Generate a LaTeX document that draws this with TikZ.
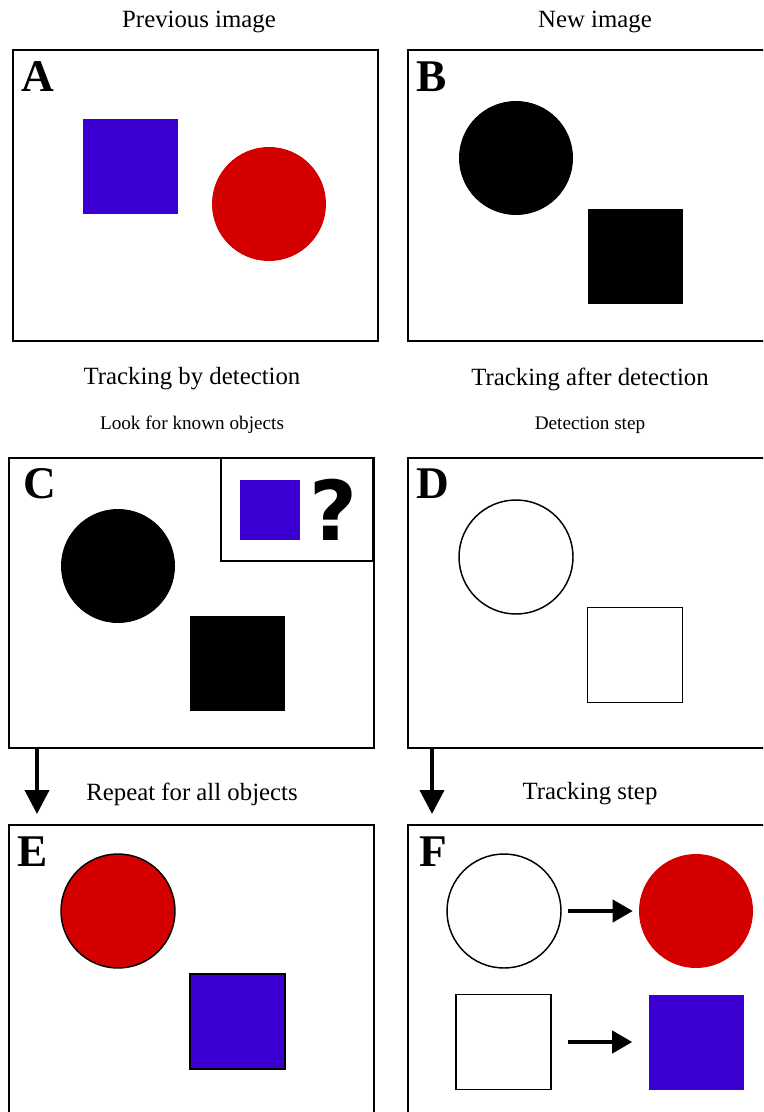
\documentclass[tikz,border=0pt]{standalone}
\usepackage{fontspec}
\setmainfont{Liberation Serif}
\newfontfamily\markfont{DejaVu Sans}
\usetikzlibrary{arrows.meta}
\definecolor{objblue}{HTML}{3B00D1}
\definecolor{objred}{HTML}{D40000}

\begin{document}
\begin{tikzpicture}[
  x=0.75pt, y=-0.75pt,
  panel/.style={draw, line width=1.5pt, minimum width=273.75pt, minimum height=217.5pt, inner sep=0pt},
  widepanel/.style={panel, minimum width=279pt},
  disc/.style={circle, minimum size=85.5pt, inner sep=0pt},
  blk/.style={rectangle, minimum size=71.25pt, inner sep=0pt},
  tag/.style={font=\fontsize{34}{34}\selectfont\bfseries},
  title/.style={font=\fontsize{18.6}{22}\selectfont},
  note/.style={font=\fontsize{14.4}{17}\selectfont},
  arrow/.style={-{Triangle[length=18pt, width=18pt]}, line width=3pt}
]
  \useasboundingbox (0,0) rectangle (763,1112);
  \clip (0,0) rectangle (763,1112);

  % headings
  \node[title] (prevtitle) at (199,22) {Previous image};
  \node[title] (newtitle) at (595,22) {New image};
  \node[title] (bytitle) at (192,379) {Tracking by detection};
  \node[title] (aftertitle) at (590,379) {Tracking after detection};
  \node[note] (bynote) at (192,425) {Look for known objects};
  \node[note] (afternote) at (590,425) {Detection step};
  \node[title] (repeattitle) at (192,794) {Repeat for all objects};
  \node[title] (tracktitle) at (590,794) {Tracking step};

  % the six frames
  \node[panel] (A) at (195,195.5) {};
  \node[widepanel] (B) at (594,195.5) {};
  \node[panel] (C) at (191.5,603) {};
  \node[widepanel] (D) at (594,603) {};
  \node[panel] (E) at (191.5,970) {};
  \node[widepanel] (F) at (594,970) {};

  \node[tag] (tagA) at (38,77) {A};
  \node[tag] (tagB) at (432,77) {B};
  \node[tag] (tagC) at (40,484) {C};
  \node[tag] (tagD) at (433,484) {D};
  \node[tag] (tagE) at (33,852) {E};
  \node[tag] (tagF) at (433,852) {F};

  % A: previous image
  \node[blk, fill=objblue] (sqA) at (130.5,167) {};
  \node[disc, fill=objred] (discA) at (269,204) {};

  % B: new image
  \node[disc, fill=black] (discB) at (516,158) {};
  \node[blk, fill=black] (sqB) at (635,256.5) {};

  % C: search for a known object
  \node[disc, fill=black] (discC) at (118,566) {};
  \node[blk, fill=black] (sqC) at (237,663.5) {};
  \node[draw, line width=1.5pt, fill=white, minimum width=114pt, minimum height=77.25pt, inner sep=0pt] (query) at (297,509.5) {};
  \node[fill=objblue, minimum size=45pt, inner sep=0pt] (querysq) at (270,510) {};
  \node[font=\markfont\bfseries\fontsize{62}{62}\selectfont] (querymark) at (333,510) {?};

  % D: detections only
  \node[disc, draw, line width=1.1pt] (discD) at (516,557) {};
  \node[blk, draw, line width=1.1pt] (sqD) at (635,655) {};

  % E: every object matched
  \node[disc, draw, line width=1.1pt, fill=objred] (discE) at (118,911) {};
  \node[blk, draw, line width=1.1pt, fill=objblue] (sqE) at (237.5,1021.5) {};

  % F: detections linked to tracks
  \node[disc, draw, line width=1.1pt] (discF) at (504,911) {};
  \node[disc, fill=objred] (trackdisc) at (696,911) {};
  \node[blk, draw, line width=1.1pt] (sqF) at (503.5,1042) {};
  \node[blk, fill=objblue] (tracksq) at (696,1042) {};

  \draw[arrow, -{Triangle[length=15pt, width=16.5pt]}, shorten <=4.5pt, shorten >=4.5pt] (discF) -- (trackdisc);
  \draw[arrow, -{Triangle[length=15pt, width=16.5pt]}, shorten <=12pt, shorten >=12pt] (sqF) -- (tracksq);

  % flow between frames
  \draw[arrow, shorten >=7.5pt] ([xshift=21.75pt]C.south west) -- ([xshift=21.75pt]E.north west);
  \draw[arrow, shorten >=7.5pt] ([xshift=18.75pt]D.south west) -- ([xshift=18.75pt]F.north west);
\end{tikzpicture}
\end{document}
